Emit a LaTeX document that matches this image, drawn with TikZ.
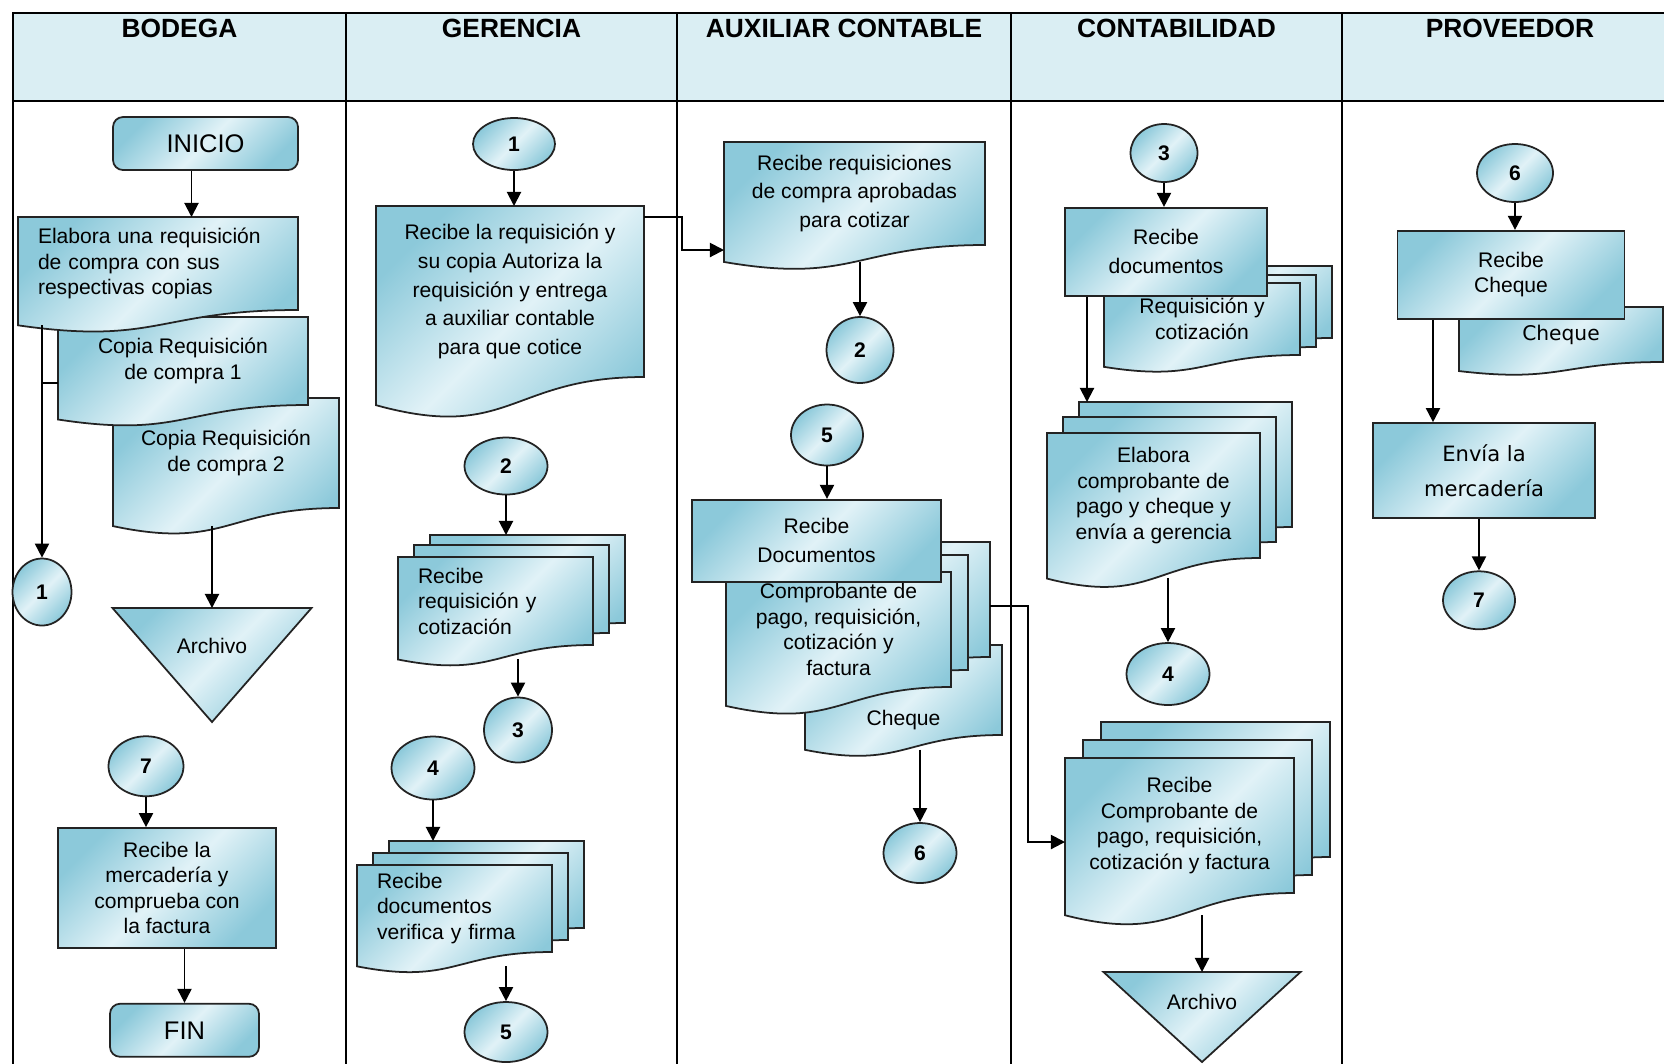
\documentclass[tikz,border=0pt]{standalone}
\usepackage{fontspec}
\setmainfont{Liberation Sans}
\newfontfamily\dejavu{DejaVu Sans}
\usepackage{tikz}
\usetikzlibrary{arrows.meta,positioning,shapes.geometric,shadows}
\usepackage{xcolor}

\definecolor{lanehead}{RGB}{218,238,243}
\definecolor{shdark}{RGB}{140,201,218}
\definecolor{shlight}{RGB}{225,242,247}
\definecolor{edge}{RGB}{35,35,35}

\makeatletter
% flowchart document: text area on top, wavy lower edge hanging below it
\pgfdeclareshape{document}{
  \inheritsavedanchors[from=rectangle]
  \inheritanchorborder[from=rectangle]
  \inheritanchor[from=rectangle]{center}
  \inheritanchor[from=rectangle]{north}
  \inheritanchor[from=rectangle]{north west}
  \inheritanchor[from=rectangle]{north east}
  \inheritanchor[from=rectangle]{west}
  \inheritanchor[from=rectangle]{east}
  \inheritanchor[from=rectangle]{south west}
  \inheritanchor[from=rectangle]{south east}
  % south sits on the wave
  \anchor{south}{
    \southwest\pgf@xa=\pgf@x\pgf@ya=\pgf@y
    \northeast\pgf@xb=\pgf@x\pgf@yb=\pgf@y
    \pgf@x=.5\pgf@xa\advance\pgf@x by.5\pgf@xb
    \pgf@y=\pgf@yb\advance\pgf@y by-\pgf@ya
    \pgf@y=-.1633\pgf@y\advance\pgf@y by\pgf@ya
  }
  \backgroundpath{
    \southwest\pgf@xa=\pgf@x\pgf@ya=\pgf@y
    \northeast\pgf@xb=\pgf@x\pgf@yb=\pgf@y
    \pgf@xc=.5\pgf@xa\advance\pgf@xc by.5\pgf@xb
    \pgf@yc=\pgf@yb\advance\pgf@yc by-\pgf@ya
    \edef\doc@l{\the\pgf@xa}\edef\doc@r{\the\pgf@xb}\edef\doc@m{\the\pgf@xc}
    \edef\doc@b{\the\pgf@ya}\edef\doc@t{\the\pgf@yb}
    \pgf@y=-.3815\pgf@yc\advance\pgf@y by\pgf@ya\edef\doc@c{\the\pgf@y}
    \pgf@y=-.1646\pgf@yc\advance\pgf@y by\pgf@ya\edef\doc@e{\the\pgf@y}
    \pgfpathmoveto{\pgfqpoint{\doc@l}{\doc@t}}
    \pgfpathlineto{\pgfqpoint{\doc@r}{\doc@t}}
    \pgfpathlineto{\pgfqpoint{\doc@r}{\doc@b}}
    \pgfpathcurveto{\pgfqpoint{\doc@m}{\doc@b}}{\pgfqpoint{\doc@m}{\doc@c}}{\pgfqpoint{\doc@l}{\doc@e}}
    \pgfpathclose
  }
}
% archive triangle, point down, text at the centroid
\pgfdeclareshape{filetri}{
  \inheritsavedanchors[from=rectangle]
  \inheritanchorborder[from=rectangle]
  \inheritanchor[from=rectangle]{center}
  \inheritanchor[from=rectangle]{north}
  \anchor{south}{
    \southwest\pgf@xa=\pgf@x\pgf@ya=\pgf@y
    \northeast\pgf@xb=\pgf@x\pgf@yb=\pgf@y
    \pgf@x=.5\pgf@xa\advance\pgf@x by.5\pgf@xb
    \pgf@y=1.5\pgf@ya\advance\pgf@y by-.5\pgf@yb
  }
  \backgroundpath{
    \southwest\pgf@xa=\pgf@x\pgf@ya=\pgf@y
    \northeast\pgf@xb=\pgf@x\pgf@yb=\pgf@y
    \pgf@xc=.5\pgf@xa\advance\pgf@xc by.5\pgf@xb
    \pgf@yc=1.5\pgf@ya\advance\pgf@yc by-.5\pgf@yb
    \edef\tri@l{\the\pgf@xa}\edef\tri@r{\the\pgf@xb}\edef\tri@m{\the\pgf@xc}
    \edef\tri@t{\the\pgf@yb}\edef\tri@p{\the\pgf@yc}
    \pgfpathmoveto{\pgfqpoint{\tri@l}{\tri@t}}
    \pgfpathlineto{\pgfqpoint{\tri@r}{\tri@t}}
    \pgfpathlineto{\pgfqpoint{\tri@m}{\tri@p}}
    \pgfpathclose
  }
}
\makeatother

\begin{document}
\begin{tikzpicture}[
x=0.2mm,y=-0.2mm,
txt/.style={font=\fontsize{12}{14.5}\selectfont},
tall/.style={font=\fontsize{12}{16.4}\selectfont},
grad/.style={left color=shdark,right color=shdark,middle color=shlight,shading angle=45},
box/.style={rectangle,draw=edge,line width=1pt,grad,align=center,inner sep=2pt,txt},
term/.style={box,rounded corners=2mm,font=\fontsize{14.5}{17}\selectfont},
doc/.style={document,draw=edge,line width=1pt,grad,align=center,inner sep=2pt,outer sep=0pt,anchor=north west,txt},
page/.style 2 args={general shadow={shadow scale=1,shadow xshift=#1,shadow yshift=#2,draw=edge,line width=1pt,grad}},
con/.style={ellipse,draw=edge,line width=1pt,grad,inner sep=0pt,font=\fontsize{12}{14}\selectfont\bfseries},
arch/.style={filetri,draw=edge,line width=1pt,grad,inner sep=0pt,outer sep=0pt,anchor=north,txt},
head/.style={font=\fontsize{15}{18}\selectfont\bfseries},
lane/.style={line width=1.2pt},
link/.style={line width=1.1pt},
arr/.style={link,-{Triangle[length=8pt,width=8pt]}}
]
\path[use as bounding box,fill=white] (0,0) rectangle (1664,1063);

% lanes
\fill[lanehead] (13,13) rectangle (1700,101);
\draw[lane] (1700,13) -- (13,13) -- (13,1080);
\draw[lane] (13,101) -- (1700,101);
\draw[lane] (346,13) -- (346,1080);
\draw[lane] (677,13) -- (677,1080);
\draw[lane] (1011,13) -- (1011,1080);
\draw[lane] (1342,13) -- (1342,1080);
\node[head] (hbod) at (179.5,28.5) {BODEGA};
\node[head] (hger) at (511.5,28.5) {GERENCIA};
\node[head] (haux) at (844,28.5) {AUXILIAR CONTABLE};
\node[head] (hcon) at (1176.5,28.5) {CONTABILIDAD};
\node[head] (hpro) at (1510,28.5) {PROVEEDOR};

% bodega
\node[term,minimum width=37mm,minimum height=10.6mm] (inicio) at (205.5,143.5) {INICIO};
\node[doc,minimum width=45.2mm,minimum height=22mm] (cop2) at (113,398) {Copia Requisición\\de compra  2};
\node[doc,minimum width=50mm,minimum height=17.6mm] (cop1) at (58,317) {Copia Requisición\\de compra  1};
\node[doc,align=left,text width=48mm,minimum width=56mm,minimum height=18.6mm] (elab) at (18,217)
  {Elabora una requisición\\de compra con sus\\respectivas copias};
\node[con,minimum width=11.8mm,minimum height=13.4mm] (c1) at (42,592) {1};
\node[arch,minimum width=39.8mm,minimum height=15.2mm] (arch1) at (212,608) {Archivo};
\node[box,minimum width=43.6mm,minimum height=24mm] (recm) at (167,888)
  {Recibe la\\mercadería  y\\comprueba  con\\la factura};
\node[con,minimum width=15mm,minimum height=12mm,above=6mm of recm,xshift=-4.2mm] (c7) {7};
\node[term,minimum width=29.8mm,minimum height=10.6mm,below=10.8mm of recm,xshift=3.5mm] (fin) {FIN};

% gerencia
\node[con,minimum width=16.4mm,minimum height=10.4mm] (g1) at (514,144) {1};
\node[doc,tall,minimum width=53.6mm,minimum height=34.2mm] (gdoc) at (376,206)
  {Recibe la requisición  y\\su copia  Autoriza  la\\requisición y entrega\\a auxiliar  contable\\para que cotice};
\node[con,minimum width=16.6mm,minimum height=11.4mm] (g2) at (506,466) {2};
\node[doc,page={6.4mm}{4.4mm},page={3.2mm}{2.4mm},align=left,text width=31mm,minimum width=39mm,minimum height=17.6mm] (gmd1) at (398,557)
  {Recibe\\requisición y\\cotización};
\node[con,minimum width=13.6mm,minimum height=13mm] (g3) at (518,730) {3};
\node[con,minimum width=16.6mm,minimum height=12.6mm] (g4) at (433,768) {4};
\node[doc,page={6.4mm}{4.8mm},page={3.2mm}{2.4mm},align=left,text width=31mm,minimum width=39mm,minimum height=17.4mm] (gmd2) at (357,865)
  {Recibe\\documentos\\verifica y firma};
\node[con,minimum width=16.6mm,minimum height=12mm] (g5) at (506,1032) {5};

% auxiliar contable
\node[doc,tall,minimum width=52.2mm,minimum height=20.6mm] (adoc) at (724,142)
  {Recibe requisiciones\\de compra  aprobadas\\para  cotizar};
\node[con,minimum width=13.4mm,minimum height=13.2mm] (a2) at (860,350) {2};
\node[doc,minimum width=39.4mm,minimum height=18mm,text height=40pt,text depth=0pt] (acheq) at (805,645) {Cheque};
\node[doc,page={7.8mm}{6mm},page={3.4mm}{3.4mm},minimum width=45mm,minimum height=23mm] (amd) at (726,572)
  {Comprobante  de\\pago, requisición,\\cotización  y\\factura};
\node[con,minimum width=14.4mm,minimum height=12.2mm] (a5) at (827,435) {5};
\node[box,tall,minimum width=49.8mm,minimum height=16.4mm,below=6.5mm of a5,xshift=-2.1mm] (abox) {Recibe\\Documentos};
\node[con,minimum width=14.6mm,minimum height=12mm] (a6) at (920,853) {6};

% contabilidad
\node[con,minimum width=13.4mm,minimum height=11.6mm] (c3) at (1164,153) {3};
\node[doc,page={6.4mm}{3.4mm},page={3.2mm}{1.6mm},minimum width=39.2mm,minimum height=14.4mm] (creq) at (1104,283)
  {Requisición  y\\cotización};
\node[box,tall,minimum width=40.4mm,minimum height=17.6mm,below=4.8mm of c3,xshift=0.4mm] (cbox) {Recibe\\documentos};
\node[doc,page={6.4mm}{6.2mm},page={3.2mm}{3.2mm},minimum width=42.6mm,minimum height=25mm] (cela) at (1047,433)
  {Elabora\\comprobante  de\\pago y cheque  y\\envía  a gerencia};
\node[con,minimum width=16.6mm,minimum height=12.4mm] (c4) at (1168,674) {4};
\node[doc,page={7.2mm}{7.2mm},page={3.6mm}{3.6mm},minimum width=45.8mm,minimum height=27mm] (cmd2) at (1065,758)
  {Recibe\\Comprobante  de\\pago, requisición,\\cotización  y factura};
\node[arch,minimum width=39.4mm,minimum height=12mm] (arch2) at (1202,972) {Archivo};

% proveedor
\node[con,minimum width=15.2mm,minimum height=11.6mm] (p6) at (1515,173) {6};
\node[doc,minimum width=40.8mm,minimum height=11mm,font=\dejavu\fontsize{11.5}{14}\selectfont] (pcheq) at (1459,307) {Cheque};
\node[box,minimum width=45.4mm,minimum height=17.6mm,below=5.4mm of p6,xshift=-0.8mm] (pbox) {Recibe\\Cheque};
\node[box,minimum width=44.4mm,minimum height=19mm,below=20.5mm of pbox,xshift=-5.4mm,font=\dejavu\fontsize{12}{20}\selectfont] (penv) {Envía la\\mercadería};
\node[con,minimum width=14.4mm,minimum height=11.6mm,below=10.3mm of penv,xshift=-1mm] (p7) {7};

% flow
\draw[arr] ([xshift=-2.8mm]inicio.south) -- ([xshift=-2.8mm]inicio.south |- elab.north);
\draw[arr] (elab.south -| c1) -- (c1);
\draw[link] ([yshift=-4.4mm]cop1.west) -- ([yshift=-4.4mm]cop1.west -| c1);
\draw[arr] (cop2.south -| arch1) -- (arch1.north);
\draw[arr] (c7) -- (c7 |- recm.north);
\draw[arr] (recm.south -| fin) -- (fin);

\draw[arr] (g1) -- (g1 |- gdoc.north);
\draw[arr] ([yshift=-2.2mm]gdoc.north east) -- ++(7.6mm,0) |- ([yshift=-1mm]adoc.south west);
\draw[arr] (g2) -- ([yshift=4.4mm]g2 |- gmd1.north);
\draw[arr] (gmd1.south -| g3) -- (g3);
\draw[arr] (g4) -- ([yshift=4.8mm]g4 |- gmd2.north);
\draw[arr] (gmd2.south -| g5) -- (g5);

\draw[arr] (adoc.south -| a2) -- (a2);
\draw[arr] (a5) -- (a5 |- abox.north);
\draw[arr] (acheq.south -| a6) -- (a6);
\draw[arr] ([shift={(7.8mm,4.7mm)}]amd.east) -- ++(7.6mm,0) |- ([yshift=-3.3mm]cmd2.west);

\draw[arr] (c3) -- (c3 |- cbox.north);
\draw[arr] ([xshift=-15.8mm]cbox.south) -- ([xshift=-15.8mm,yshift=6.2mm]cbox.south |- cela.north);
\draw[arr] (cela.south -| c4) -- (c4);
\draw[arr] (cmd2.south -| arch2) -- (arch2.north);

\draw[arr] (p6) -- (p6 |- pbox.north);
\draw[arr] ([xshift=-15.6mm]pbox.south) -- ([xshift=-15.6mm]pbox.south |- penv.north);
\draw[arr] (penv.south -| p7) -- (p7);
\end{tikzpicture}
\end{document}
